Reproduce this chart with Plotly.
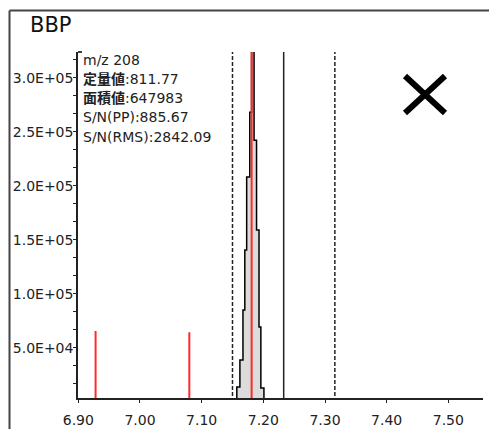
import plotly.graph_objects as go

# --- data ---
peak_time = [7.155, 7.157, 7.162, 7.167, 7.170, 7.173, 7.178, 7.181, 7.185, 7.189, 7.193, 7.196, 7.201]
peak_int = [3000, 13900, 38800, 85100, 140600, 208000, 268000, 340000, 242000, 159000, 69400, 13000, 3000]

stick_time = [6.928, 7.080, 7.181]
stick_int = [65700, 64500, 340000]

dashed_lines = [7.150, 7.316]
solid_lines = [7.233]

x_ticks = [6.90, 7.00, 7.10, 7.20, 7.30, 7.40, 7.50]
x_ticktext = ["6.90", "7.00", "7.10", "7.20", "7.30", "7.40", "7.50"]
y_ticks = [50000, 100000, 150000, 200000, 250000, 300000]
y_ticktext = ["5.0E+04", "1.0E+05", "1.5E+05", "2.0E+05", "2.5E+05", "3.0E+05"]

info_lines = ["m/z 208", "<b>定量値</b>:811.77", "<b>面積値</b>:647983",
              "S/N(PP):885.67", "S/N(RMS):2842.09"]

W, H = 489, 429
L, R, T, B = 78, 483, 52, 398  # plot area in px


def px(xp):
    return (xp - L) / (R - L)


def py(yp):
    return (B - yp) / (B - T)


FONT = "DejaVu Sans, Noto Sans CJK JP"

fig = go.Figure()

fig.add_trace(go.Scatter(x=peak_time, y=peak_int, mode="lines", line=dict(shape="hv", color="black", width=1.5),
                         fill="tozeroy", fillcolor="#dcdcdc", hoverinfo="skip"))

for t in dashed_lines:
    fig.add_trace(go.Scatter(x=[t, t], y=[0, 400000], mode="lines",
                             line=dict(color="#222", width=1.5, dash="4px,2px"), hoverinfo="skip"))
for t in solid_lines:
    fig.add_trace(go.Scatter(x=[t, t], y=[0, 400000], mode="lines",
                             line=dict(color="#222", width=1.5), hoverinfo="skip"))

sx, sy = [], []
for t, v in zip(stick_time, stick_int):
    sx += [t, t, None]
    sy += [0, v, None]
fig.add_trace(go.Scatter(x=sx, y=sy, mode="lines", line=dict(color="#ff2a2a", width=2), hoverinfo="skip"))

annotations = []
line_y = [60, 79, 98, 117, 137]
for txt, yp in zip(info_lines, line_y):
    annotations.append(dict(x=px(81), y=py(yp), xref="paper", yref="paper", text=txt, showarrow=False,
                            xanchor="left", yanchor="middle", font=dict(family=FONT, size=14, color="#222")))
annotations.append(dict(x=px(28), y=py(25), xref="paper", yref="paper", text="BBP", showarrow=False,
                        xanchor="left", yanchor="middle", font=dict(family=FONT, size=21, color="#111")))

shapes = [
    # outer frame
    dict(type="line", xref="paper", yref="paper", x0=px(9.5), y0=py(429), x1=px(9.5), y1=py(10.5),
         line=dict(color="#444", width=2)),
    dict(type="line", xref="paper", yref="paper", x0=px(9.5), y0=py(10.5), x1=px(489), y1=py(10.5),
         line=dict(color="#444", width=2)),
    # cross mark
    dict(type="line", xref="paper", yref="paper", x0=px(405), y0=py(76), x1=px(445), y1=py(113),
         line=dict(color="black", width=6)),
    dict(type="line", xref="paper", yref="paper", x0=px(405), y0=py(113), x1=px(445), y1=py(76),
         line=dict(color="black", width=6)),
    # small bracket at top of y axis
    dict(type="line", xref="paper", yref="paper", x0=px(78), y0=py(52), x1=px(82), y1=py(52),
         line=dict(color="black", width=1.5)),
]

fig.update_layout(
    width=W, height=H,
    margin=dict(l=L, r=W - R, t=T, b=H - B),
    paper_bgcolor="white", plot_bgcolor="white",
    showlegend=False,
    annotations=annotations,
    shapes=shapes,
    xaxis=dict(range=[6.8995, 7.5562], tickvals=x_ticks, ticktext=x_ticktext, showgrid=False, zeroline=False,
               automargin=False, ticklabelstandoff=5,
               showline=True, linecolor="#222", linewidth=2, ticks="outside", ticklen=3, tickcolor="#222",
               tickfont=dict(family=FONT, size=14, color="#222")),
    yaxis=dict(range=[3700, 323700], tickvals=y_ticks, ticktext=y_ticktext, showgrid=False, zeroline=False,
               automargin=False, ticklabelstandoff=-3,
               showline=True, linecolor="#222", linewidth=1.5, ticks="outside", ticklen=3, tickcolor="#222",
               minor=dict(ticks="outside", ticklen=3, dtick=50000 / 3, tickcolor="#222"),
               tickfont=dict(family=FONT, size=14, color="#222")),
)

fig.write_html("out.html", config={"displayModeBar": False},
               post_script="document.body.style.margin='0';document.body.style.overflow='hidden';")
